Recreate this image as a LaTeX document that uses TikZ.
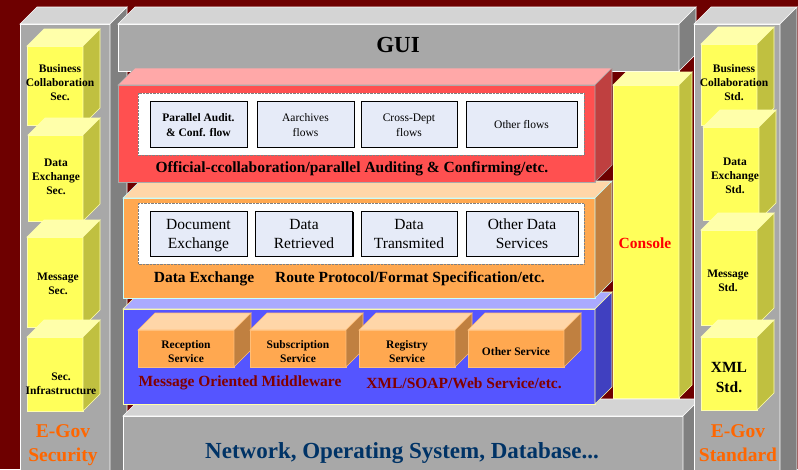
\documentclass[tikz,border=0pt]{standalone}
\usepackage{fontspec}
\setmainfont{Liberation Serif}
\usetikzlibrary{shadows}

\definecolor{bgred}{RGB}{110,0,0}
\definecolor{grayfront}{RGB}{168,168,168}
\definecolor{graytop}{RGB}{212,212,212}
\definecolor{grayside}{RGB}{128,128,128}
\definecolor{grayline}{RGB}{255,255,255}
\definecolor{yelfront}{RGB}{255,255,90}
\definecolor{yeltop}{RGB}{255,255,170}
\definecolor{yelside}{RGB}{192,192,64}
\definecolor{yelline}{RGB}{255,255,175}
\definecolor{redfront}{RGB}{255,80,80}
\definecolor{redtop}{RGB}{255,168,168}
\definecolor{redside}{RGB}{191,64,64}
\definecolor{redline}{RGB}{170,170,170}
\definecolor{orafront}{RGB}{255,168,80}
\definecolor{oratop}{RGB}{255,214,168}
\definecolor{oraside}{RGB}{192,128,64}
\definecolor{oraline}{RGB}{200,255,255}
\definecolor{svcfront}{RGB}{255,168,80}
\definecolor{svctop}{RGB}{255,214,168}
\definecolor{svcside}{RGB}{192,128,64}
\definecolor{svcline}{RGB}{255,190,120}
\definecolor{bluefront}{RGB}{85,85,255}
\definecolor{bluetop}{RGB}{170,170,255}
\definecolor{blueside}{RGB}{64,64,192}
\definecolor{blueline}{RGB}{255,255,170}
\definecolor{flowfill}{RGB}{230,235,248}
\definecolor{netblue}{RGB}{0,51,102}
\definecolor{egov}{RGB}{255,102,0}
\definecolor{mom}{RGB}{128,0,0}

% front face at (x,y) size w x h, depth d, palette
\newcommand{\cuboid}[6]{%
  \filldraw[fill=#6front, draw=#6line, line width=0.6pt] (#1,#2) rectangle (#1+#3,#2+#4);
  \filldraw[fill=#6top, draw=#6line, line width=0.6pt] (#1,#2) -- (#1+#5,#2-#5) -- (#1+#3+#5,#2-#5) -- (#1+#3,#2) -- cycle;
  \filldraw[fill=#6side, draw=#6line, line width=0.6pt] (#1+#3,#2) -- (#1+#3+#5,#2-#5) -- (#1+#3+#5,#2+#4-#5) -- (#1+#3,#2+#4) -- cycle;}

\begin{document}
\begin{tikzpicture}[x=1pt, y=-1pt]
  \tikzstyle{title} = [font=\fontsize{23}{26}\selectfont\bfseries]
  \tikzstyle{egovtxt} = [font=\fontsize{19.5}{24}\selectfont\bfseries, text=egov, align=center]
  \tikzstyle{sidetxt} = [font=\fontsize{11.5}{14}\selectfont\bfseries, align=center,
    execute at begin node=\strut, execute at end node=\strut]
  \tikzstyle{layercap} = [font=\fontsize{15.5}{18}\selectfont\bfseries]
  \tikzstyle{flowbox} = [draw=black, line width=0.8pt, fill=flowfill,
    drop shadow={shadow xshift=1.2pt, shadow yshift=-1.2pt, fill=black, opacity=1}]
  \tikzstyle{smalltxt} = [font=\fontsize{11.5}{15}\selectfont, align=center,
    execute at begin node=\strut, execute at end node=\strut]
  \tikzstyle{bigtxt} = [font=\fontsize{15.5}{19}\selectfont, align=center,
    execute at begin node=\strut, execute at end node=\strut]
  \tikzstyle{panel} = [draw=gray, densely dotted, fill=white]
  \clip (0,0) rectangle (798,469);
  \fill[bgred] (0,0) rectangle (798,469);

  % security column
  \cuboid{20}{24}{90}{470}{17}{gray}
  \cuboid{27}{46}{56}{79}{17}{yel}
  \cuboid{28}{135}{55}{86}{17}{yel}
  \cuboid{27}{237}{56}{90}{17}{yel}
  \cuboid{27}{337}{56}{74}{17}{yel}
  \node[sidetxt] (bcsec) at (60,84.5) {Business\\Collaboration\\Sec.};
  \node[sidetxt] (desec) at (56,178.5) {Data\\Exchange\\Sec.};
  \node[sidetxt] (msgsec) at (58,285.5) {Message\\Sec.};
  \node[sidetxt] (infsec) at (61,385.5) {Sec.\\Infrastructure};
  \node[egovtxt] (security) at (63,445) {E-Gov\\Security};

  % GUI and network
  \cuboid{118}{24}{561}{47}{17}{gray}
  \node[title] (gui) at (398,45) {GUI};
  \cuboid{123}{416}{560}{70}{17}{gray}
  \node[title, text=netblue] (network) at (402,453) {Network, Operating System, Database...};

  % middleware layer
  \cuboid{123}{309}{472}{95}{17}{blue}
  \cuboid{138}{330}{96}{37}{17}{svc}
  \cuboid{250}{330}{96}{37}{17}{svc}
  \cuboid{359}{330}{96}{37}{17}{svc}
  \cuboid{468}{330}{96}{37}{17}{svc}
  \node[sidetxt] (reception) at (186,354) {Reception\\Service};
  \node[sidetxt] (subscription) at (298,354) {Subscription\\Service};
  \node[sidetxt] (registry) at (407,354) {Registry\\Service};
  \node[sidetxt] (othersvc) at (516,353) {Other Service};
  \node[layercap, text=mom] (momcap) at (240,383) {Message Oriented Middleware};
  \node[layercap, text=mom] (xmlcap) at (464,383) {XML/SOAP/Web Service/etc.};

  % data exchange layer
  \cuboid{123}{198}{472}{100}{17}{ora}
  \fill[panel] (138,203) rectangle (584,264);
  \node[flowbox, minimum width=97, minimum height=45] (docex) at (198.5,233.5) {};
  \node[flowbox, minimum width=97, minimum height=45] (retrieved) at (304,233.5) {};
  \node[flowbox, minimum width=96, minimum height=45] (transmited) at (409,233.5) {};
  \node[flowbox, minimum width=112, minimum height=45] (otherdata) at (522,233.5) {};
  \node[bigtxt] (docextxt) at ([yshift=-3pt]docex.center) {Document\\Exchange};
  \node[bigtxt] (retrievedtxt) at ([yshift=-3pt]retrieved.center) {Data\\Retrieved};
  \node[bigtxt] (transmitedtxt) at ([yshift=-3pt]transmited.center) {Data\\Transmited};
  \node[bigtxt] (otherdatatxt) at ([yshift=-3pt]otherdata.center) {Other Data\\Services};
  \node[layercap] (decap) at (204,279) {Data Exchange};
  \node[layercap] (routecap) at (410,279) {Route Protocol/Format Specification/etc.};

  % collaboration layer
  \cuboid{118}{85}{477}{97}{17}{red}
  \fill[panel] (138,93) rectangle (584,155);
  \node[flowbox, minimum width=97, minimum height=46] (audit) at (198.5,124) {};
  \node[flowbox, minimum width=97, minimum height=46] (archives) at (305.5,124) {};
  \node[flowbox, minimum width=96, minimum height=46] (crossdept) at (409,124) {};
  \node[flowbox, minimum width=111, minimum height=46] (otherflows) at (521.5,124) {};
  \node[smalltxt, font=\fontsize{11.5}{15}\selectfont\bfseries] (audittxt) at ([yshift=-3pt]audit.center) {Parallel Audit.\\\& Conf. flow};
  \node[smalltxt] (archivestxt) at ([yshift=-3pt]archives.center) {Aarchives\\flows};
  \node[smalltxt] (crossdepttxt) at ([yshift=-3pt]crossdept.center) {Cross-Dept\\flows};
  \node[smalltxt] (otherflowstxt) at ([yshift=-1pt]otherflows.center) {Other flows};
  \node[layercap] (offcap) at (352,169) {Official-ccollaboration/parallel Auditing \& Confirming/etc.};

  % console
  \cuboid{613}{85}{66}{313}{13}{yel}
  \node[layercap, text=red] (console) at (645,243) {Console};

  % standard column
  \cuboid{694}{24}{86}{470}{17}{gray}
  \cuboid{701}{44}{56}{81}{17}{yel}
  \cuboid{703}{127}{56}{93}{17}{yel}
  \cuboid{701}{230}{56}{95}{17}{yel}
  \cuboid{701}{337}{56}{73}{17}{yel}
  \node[sidetxt] (bcstd) at (734,84.5) {Business\\Collaboration\\Std.};
  \node[sidetxt] (destd) at (735,177.5) {Data\\Exchange\\Std.};
  \node[sidetxt] (msgstd) at (728,282.5) {Message\\Std.};
  \node[sidetxt, font=\fontsize{15.5}{20}\selectfont\bfseries] (xmlstd) at (729,380) {XML\\Std.};
  \node[egovtxt] (standard) at (738,443) {E-Gov\\Standard};
\end{tikzpicture}
\end{document}
